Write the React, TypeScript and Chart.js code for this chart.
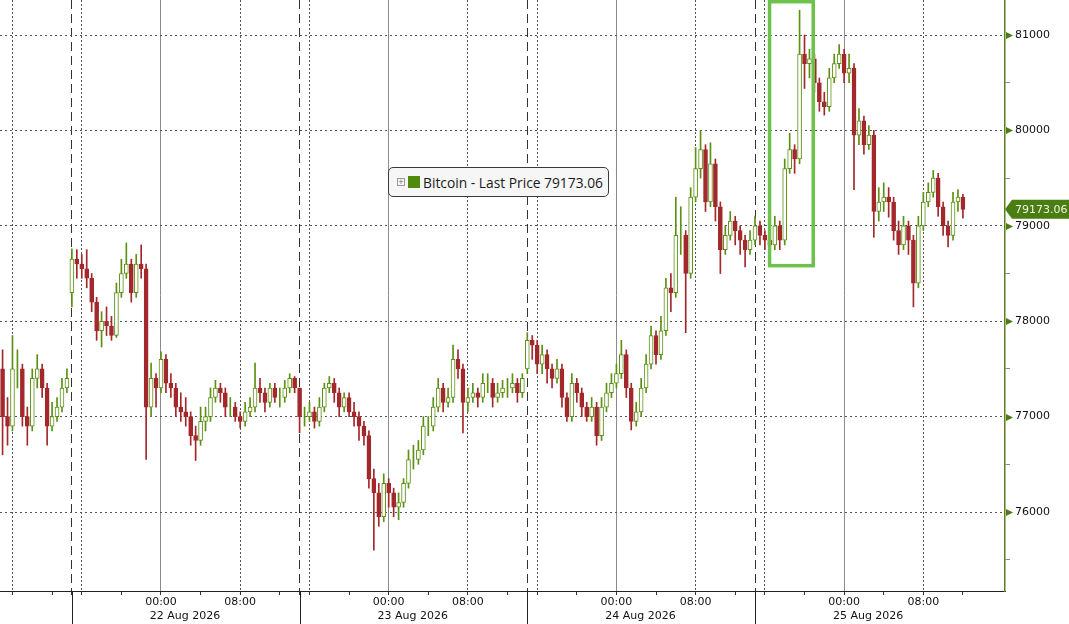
import React, { useEffect, useRef } from "react";
import { Chart, registerables } from "chart.js";

Chart.register(...registerables);

// ---------------- data (30-minute candles, display hours from 22 Aug 00:00) ----------------
const seriesName = "Bitcoin - Last Price";
const lastPrice = 79173.06;
const firstOpen = 77500;
const candleStart = -16; // first candle, display hours relative to 22 Aug 2026 00:00
const candleStep = 0.5; // 30 minutes

const closes = [
  77000, 76900, 77500, 77500, 77000, 76900, 77400, 77500, 77300, 76900,
  77000, 77100, 77300, 77400, 78650, 78600, 78550, 78450, 78200, 77900,
  78000, 77950, 77850, 78300, 78500, 78600, 78300, 78600, 78550, 77100,
  77400, 77300, 77600, 77350, 77300, 77100, 77050, 77000, 76800, 76750,
  76950, 77000, 77200, 77300, 77250, 77100, 77100, 77000, 76950, 77050,
  77100, 77300, 77250, 77150, 77300, 77200, 77200, 77300, 77400, 77300,
  77000, 77000, 77050, 76950, 77100, 77300, 77350, 77250, 77100, 77200,
  77050, 77000, 76900, 76800, 76350, 76200, 75950, 76300, 76200, 76050,
  76100, 76300, 76550, 76550, 76650, 76900, 76900, 77100, 77300, 77150,
  77200, 77600, 77500, 77150, 77200, 77250, 77200, 77350, 77350, 77200,
  77250, 77300, 77300, 77350, 77250, 77400, 77800, 77750, 77550, 77650,
  77500, 77400, 77500, 77200, 77000, 77350, 77250, 77100, 77000, 77100,
  76800, 77100, 77250, 77350, 77450, 77650, 77300, 76950, 77050, 77300,
  77550, 77850, 77650, 77900, 78350, 78300, 78900, 78900, 78500, 79300,
  79600, 79800, 79250, 79650, 79200, 78750, 78900, 79050, 78950, 78850,
  78750, 78850, 79000, 78900, 78850, 78800, 79000, 78850, 79600, 79800,
  79700, 80800, 80700, 80750, 80500, 80300, 80250, 80550, 80700, 80800,
  80600, 80650, 79950, 80100, 79850, 79950, 79150, 79250, 79300, 79250,
  78950, 78800, 79000, 78850, 78400, 79000, 79250, 79350, 79500, 79200,
  79000, 78900, 79250, 79300, 79173.06,
];

const highs = [
  77700, 77200, 77850, 77700, 77550, 77100, 77500, 77650, 77550, 77350,
  77150, 77200, 77400, 77500, 78760, 78750, 78700, 78750, 78500, 78250,
  78100, 78150, 78050, 78400, 78650, 78820, 78650, 78700, 78800, 78600,
  77560, 77450, 77680, 77650, 77450, 77350, 77250, 77200, 77050, 76900,
  77100, 77100, 77300, 77380, 77350, 77300, 77200, 77150, 77050, 77150,
  77200, 77560, 77400, 77300, 77350, 77350, 77300, 77380, 77450, 77420,
  77300, 77100, 77150, 77100, 77200, 77350, 77420, 77400, 77300, 77250,
  77250, 77150, 77050, 76950, 76850, 76450, 76300, 76400, 76350, 76250,
  76200, 76350, 76650, 76700, 76750, 77000, 77000, 77200, 77400, 77350,
  77300, 77750, 77700, 77550, 77300, 77350, 77300, 77450, 77450, 77400,
  77350, 77380, 77400, 77450, 77400, 77450, 77880, 77850, 77800, 77750,
  77700, 77550, 77600, 77550, 77250, 77450, 77400, 77300, 77150, 77200,
  77150, 77200, 77350, 77450, 77550, 77800, 77700, 77350, 77150, 77400,
  77650, 77950, 77900, 78050, 78450, 78500, 79300, 79200, 78950, 79400,
  79820, 80000, 79850, 79870, 79700, 79250, 79000, 79150, 79100, 79000,
  78900, 78950, 79100, 79050, 78950, 78900, 79100, 79050, 79700, 79970,
  79850, 81260, 81000, 80850, 80800, 80550, 80400, 80650, 80800, 80900,
  80850, 80800, 80700, 80230, 80150, 80050, 80000, 79400, 79450, 79400,
  79300, 79050, 79100, 79050, 78900, 79100, 79350, 79450, 79580, 79550,
  79250, 79050, 79350, 79380, 79330,
];

const lows = [
  76600, 76700, 76850, 77300, 76900, 76700, 76850, 77300, 77200, 76700,
  76850, 76950, 77050, 77250, 78150, 78450, 78450, 78350, 78100, 77800,
  77730, 77850, 77800, 77830, 78250, 78450, 78200, 78250, 78450, 76550,
  77000, 77100, 77250, 77250, 77200, 77000, 76950, 76900, 76700, 76540,
  76700, 76850, 76950, 77150, 77150, 77000, 77000, 76950, 76880, 76900,
  77000, 77050, 77150, 77050, 77100, 77150, 77100, 77150, 77250, 77250,
  76830, 76900, 76950, 76880, 76900, 77050, 77250, 77150, 77000, 77050,
  77000, 76900, 76750, 76700, 76250, 75600, 75850, 75900, 76050, 75950,
  75920, 76050, 76250, 76450, 76500, 76600, 76800, 76850, 77050, 77050,
  77100, 77150, 77400, 76830, 77050, 77150, 77100, 77150, 77250, 77100,
  77150, 77200, 77200, 77250, 77150, 77200, 77450, 77600, 77450, 77450,
  77350, 77300, 77350, 77100, 76950, 76950, 77150, 77000, 76950, 76950,
  76700, 76750, 77050, 77200, 77300, 77400, 77200, 76860, 76900, 77000,
  77250, 77500, 77550, 77600, 77850, 78100, 78250, 78700, 77880, 78450,
  79250, 79500, 79150, 79200, 79050, 78500, 78700, 78850, 78800, 78700,
  78570, 78700, 78800, 78800, 78750, 78700, 78750, 78750, 78800, 79550,
  79550, 79650, 80440, 80550, 80400, 80200, 80160, 80200, 80500, 80650,
  80500, 80500, 79380, 79850, 79750, 79800, 78880, 79050, 79150, 79090,
  78850, 78700, 78750, 78700, 78150, 78350, 78950, 79200, 79300, 79100,
  78900, 78780, 78850, 79150, 79080,
];

// session re-opens (gaps) : candle index and its opening price
const gapIndex = [14, 106];
const gapOpen = [78300, 77500];

// axis labels / ticks
const dayLabels = ["22 Aug 2026", "23 Aug 2026", "24 Aug 2026", "25 Aug 2026"];
const hourLabels = ["00:00", "08:00"];
const gridHours = [0, 4, 8, 12, 16, 20];
const breakHour = 14; // display hour of the daily session break
const priceMajor = [76000, 77000, 78000, 79000, 80000, 81000];
const priceMinor = [75500, 76500, 77500, 78500, 79500, 80500];

// highlight box (time from/to in display hours, price high/low)
const boxFrom = 61.47;
const boxTo = 65.88;
const boxHigh = 81349;
const boxLow = 78582;

// ---------------- styling ----------------
const X_MIN = -16.26;
const X_MAX = 85.25;
const Y_MIN = 75172;
const Y_MAX = 81367;
const UP = "#5b9012";
const DOWN = "#a2282b";
const AXIS_FONT = "'DejaVu Sans', Verdana, sans-serif";
const LEGEND_FONT = "'Open Sans', 'DejaVu Sans', sans-serif";

const dispHour = (day: number, hour: number) => 23 * day + (hour >= 15 ? hour - 1 : hour);

const candleX = closes.map((_, i) => candleStart + candleStep * i);
const opens = closes.map((c, i) => {
  const g = gapIndex.indexOf(i);
  if (g >= 0) return gapOpen[g];
  return i === 0 ? firstOpen : closes[i - 1];
});
const lastX = candleX[candleX.length - 1];

function buildXTicks() {
  const t: any[] = [];
  for (let d = -1; d <= 3; d++) {
    for (const h of gridHours) {
      const v = dispHour(d, h);
      if (v < X_MIN || v > lastX) continue;
      const kind = h === 0 ? "mid" : h === 8 || h === 16 ? "dot" : "minor";
      const lbl = d >= 0 && h === 0 ? hourLabels[0] : d >= 0 && h === 8 ? hourLabels[1] : "";
      t.push({ value: v, kind, lbl });
    }
    const b = 23 * d + breakHour;
    if (b >= X_MIN && b <= lastX) t.push({ value: b, kind: "brk", lbl: "" });
  }
  return t.sort((a, b) => a.value - b.value);
}

function buildDateTicks() {
  return dayLabels.map((lbl, d) => ({ value: dispHour(d, 0), lbl }));
}

const noPad = (s: any) => {
  s.paddingTop = 0;
  s.paddingBottom = 0;
  s.paddingLeft = 0;
  s.paddingRight = 0;
};

const overlayPlugin = {
  id: "overlay",
  afterDraw(chart: any) {
    const { ctx, chartArea, scales } = chart;
    const xs = scales.x;
    const ys = scales.y;
    ctx.save();
    // session-break lines through the label band
    ctx.strokeStyle = "#222";
    ctx.lineWidth = 1;
    for (const tk of xs.ticks) {
      if (tk.kind !== "brk") continue;
      const px = Math.round(xs.getPixelForValue(tk.value)) + 0.5;
      ctx.beginPath();
      ctx.moveTo(px, chartArea.bottom);
      ctx.lineTo(px, chart.height);
      ctx.stroke();
    }
    // arrow markers on price axis
    ctx.fillStyle = "#4e7a12";
    for (const v of priceMajor) {
      const py = Math.round(ys.getPixelForValue(v)) + 0.5;
      const x0 = chartArea.right + 1;
      ctx.beginPath();
      ctx.moveTo(x0, py - 3.5);
      ctx.lineTo(x0 + 7, py);
      ctx.lineTo(x0, py + 3.5);
      ctx.closePath();
      ctx.fill();
    }
    // highlight box
    const l = xs.getPixelForValue(boxFrom);
    const r = xs.getPixelForValue(boxTo);
    const t = ys.getPixelForValue(boxHigh);
    const b = ys.getPixelForValue(boxLow);
    ctx.strokeStyle = "#6cc24a";
    ctx.lineWidth = 3.5;
    ctx.strokeRect(l, t, r - l, b - t);
    // last price tag
    const py = ys.getPixelForValue(lastPrice);
    const x0 = chartArea.right;
    const w = chart.width;
    ctx.fillStyle = "#4a7d12";
    ctx.beginPath();
    ctx.moveTo(x0, py);
    ctx.lineTo(x0 + 7, py - 9.5);
    ctx.lineTo(w, py - 9.5);
    ctx.lineTo(w, py + 9.5);
    ctx.lineTo(x0 + 7, py + 9.5);
    ctx.closePath();
    ctx.fill();
    ctx.fillStyle = "#eef5e0";
    ctx.font = "11px 'DejaVu Sans'";
    ctx.textBaseline = "middle";
    ctx.textAlign = "left";
    ctx.fillText(lastPrice.toFixed(2), x0 + 10, py + 0.5);
    ctx.restore();
  },
};

export default function App() {
  const ref = useRef<HTMLCanvasElement>(null);

  useEffect(() => {
    const up = closes.map((c, i) => c >= opens[i]);
    const chart = new Chart(ref.current as HTMLCanvasElement, {
      type: "bar",
      data: {
        datasets: [
          {
            label: seriesName,
            data: candleX.map((x, i) => ({ x, y: [opens[i], closes[i]] })) as any,
            backgroundColor: up.map((u) => (u ? "#ffffff" : DOWN)),
            borderColor: up.map((u) => (u ? UP : DOWN)),
            borderWidth: 1,
            borderSkipped: false,
            barThickness: 4,
            grouped: false,
            order: 0,
          } as any,
          {
            label: "wick",
            data: candleX.map((x, i) => ({ x, y: [lows[i], highs[i]] })) as any,
            backgroundColor: up.map((u) => (u ? UP : DOWN)),
            borderWidth: 0,
            barThickness: 1,
            grouped: false,
            order: 1,
          } as any,
        ],
      },
      options: {
        responsive: false,
        animation: false,
        events: [],
        layout: { padding: 0 },
        plugins: { legend: { display: false }, tooltip: { enabled: false } },
        scales: {
          x: {
            type: "linear",
            position: "bottom",
            weight: 0,
            min: X_MIN,
            max: X_MAX,
            offset: false,
            afterBuildTicks: (s: any) => {
              s.ticks = buildXTicks();
            },
            afterFit: (s: any) => {
              s.height = 16;
              noPad(s);
            },
            ticks: {
              autoSkip: false,
              maxRotation: 0,
              minRotation: 0,
              padding: 1,
              color: "#111",
              font: { family: AXIS_FONT, size: 11 },
              callback: (_v: any, i: number, ticks: any[]) => ticks[i].lbl,
            },
            grid: {
              offset: false,
              lineWidth: 1,
              tickLength: 4,
              tickColor: "#333",
              color: (c: any) => {
                const k = c.tick && c.tick.kind;
                if (k === "mid") return "#8c8c8c";
                if (k === "dot") return "#555555";
                if (k === "brk") return "#333333";
                return "rgba(0,0,0,0)";
              },
            },
            border: {
              display: true,
              color: "#222",
              width: 1,
              dash: (c: any) => {
                const k = c.tick && c.tick.kind;
                if (k === "dot") return [2, 2];
                if (k === "brk") return [9, 5];
                return [];
              },
            },
          } as any,
          xDate: {
            type: "linear",
            position: "bottom",
            weight: 1,
            min: X_MIN,
            max: X_MAX,
            offset: false,
            afterBuildTicks: (s: any) => {
              s.ticks = buildDateTicks();
            },
            afterFit: (s: any) => {
              s.height = 17;
              noPad(s);
            },
            ticks: {
              autoSkip: false,
              maxRotation: 0,
              minRotation: 0,
              padding: 3,
              labelOffset: 24,
              color: "#111",
              font: { family: AXIS_FONT, size: 11 },
              callback: (_v: any, i: number, ticks: any[]) => ticks[i].lbl,
            },
            grid: { display: false, drawTicks: false, offset: false },
            border: { display: false },
          } as any,
          y: {
            type: "linear",
            position: "right",
            min: Y_MIN,
            max: Y_MAX,
            afterBuildTicks: (s: any) => {
              s.ticks = [...priceMinor, ...priceMajor]
                .sort((a, b) => a - b)
                .map((v) => ({ value: v, big: priceMajor.includes(v) }));
            },
            afterFit: (s: any) => {
              s.width = 64;
              noPad(s);
            },
            ticks: {
              autoSkip: false,
              padding: 5,
              color: "#111",
              font: { family: AXIS_FONT, size: 11 },
              callback: (v: any) => (priceMajor.includes(v) ? String(v) : ""),
            },
            grid: {
              lineWidth: 1,
              tickLength: 5,
              color: (c: any) => (c.tick && c.tick.big ? "#555555" : "rgba(0,0,0,0)"),
              tickColor: (c: any) => (c.tick && c.tick.big ? "rgba(0,0,0,0)" : "#8a8a8a"),
            },
            border: {
              display: true,
              color: "#5d7f1c",
              width: 1.5,
              dash: () => [2, 3],
            },
          } as any,
        },
      } as any,
      plugins: [overlayPlugin],
    });
    return () => chart.destroy();
  }, []);

  return (
    <div style={{ position: "absolute", left: 0, top: 0, width: 1069, height: 624, background: "#ffffff", overflow: "hidden" }}>
      <canvas ref={ref} width={1069} height={624} style={{ display: "block", width: 1069, height: 624 }} />
      <div
        style={{
          position: "absolute",
          left: 388,
          top: 167,
          width: 221,
          height: 30,
          boxSizing: "border-box",
          border: "1px solid #3a3a3a",
          borderRadius: 5,
          background: "#f6f6f6",
          display: "flex",
          alignItems: "center",
          whiteSpace: "nowrap",
          fontFamily: LEGEND_FONT,
          fontSize: 13.8,
          color: "#1a1a1a",
        }}
      >
        <span
          style={{
            marginLeft: 8,
            width: 6,
            height: 6,
            border: "1px solid #9a9a9a",
            fontSize: 7,
            lineHeight: "6px",
            textAlign: "center",
            color: "#666",
            fontFamily: AXIS_FONT,
          }}
        >
          +
        </span>
        <span style={{ marginLeft: 3, width: 12, height: 12, background: "#4f8a0b" }} />
        <span style={{ marginLeft: 3 }}>{seriesName} {lastPrice.toFixed(2)}</span>
      </div>
    </div>
  );
}
